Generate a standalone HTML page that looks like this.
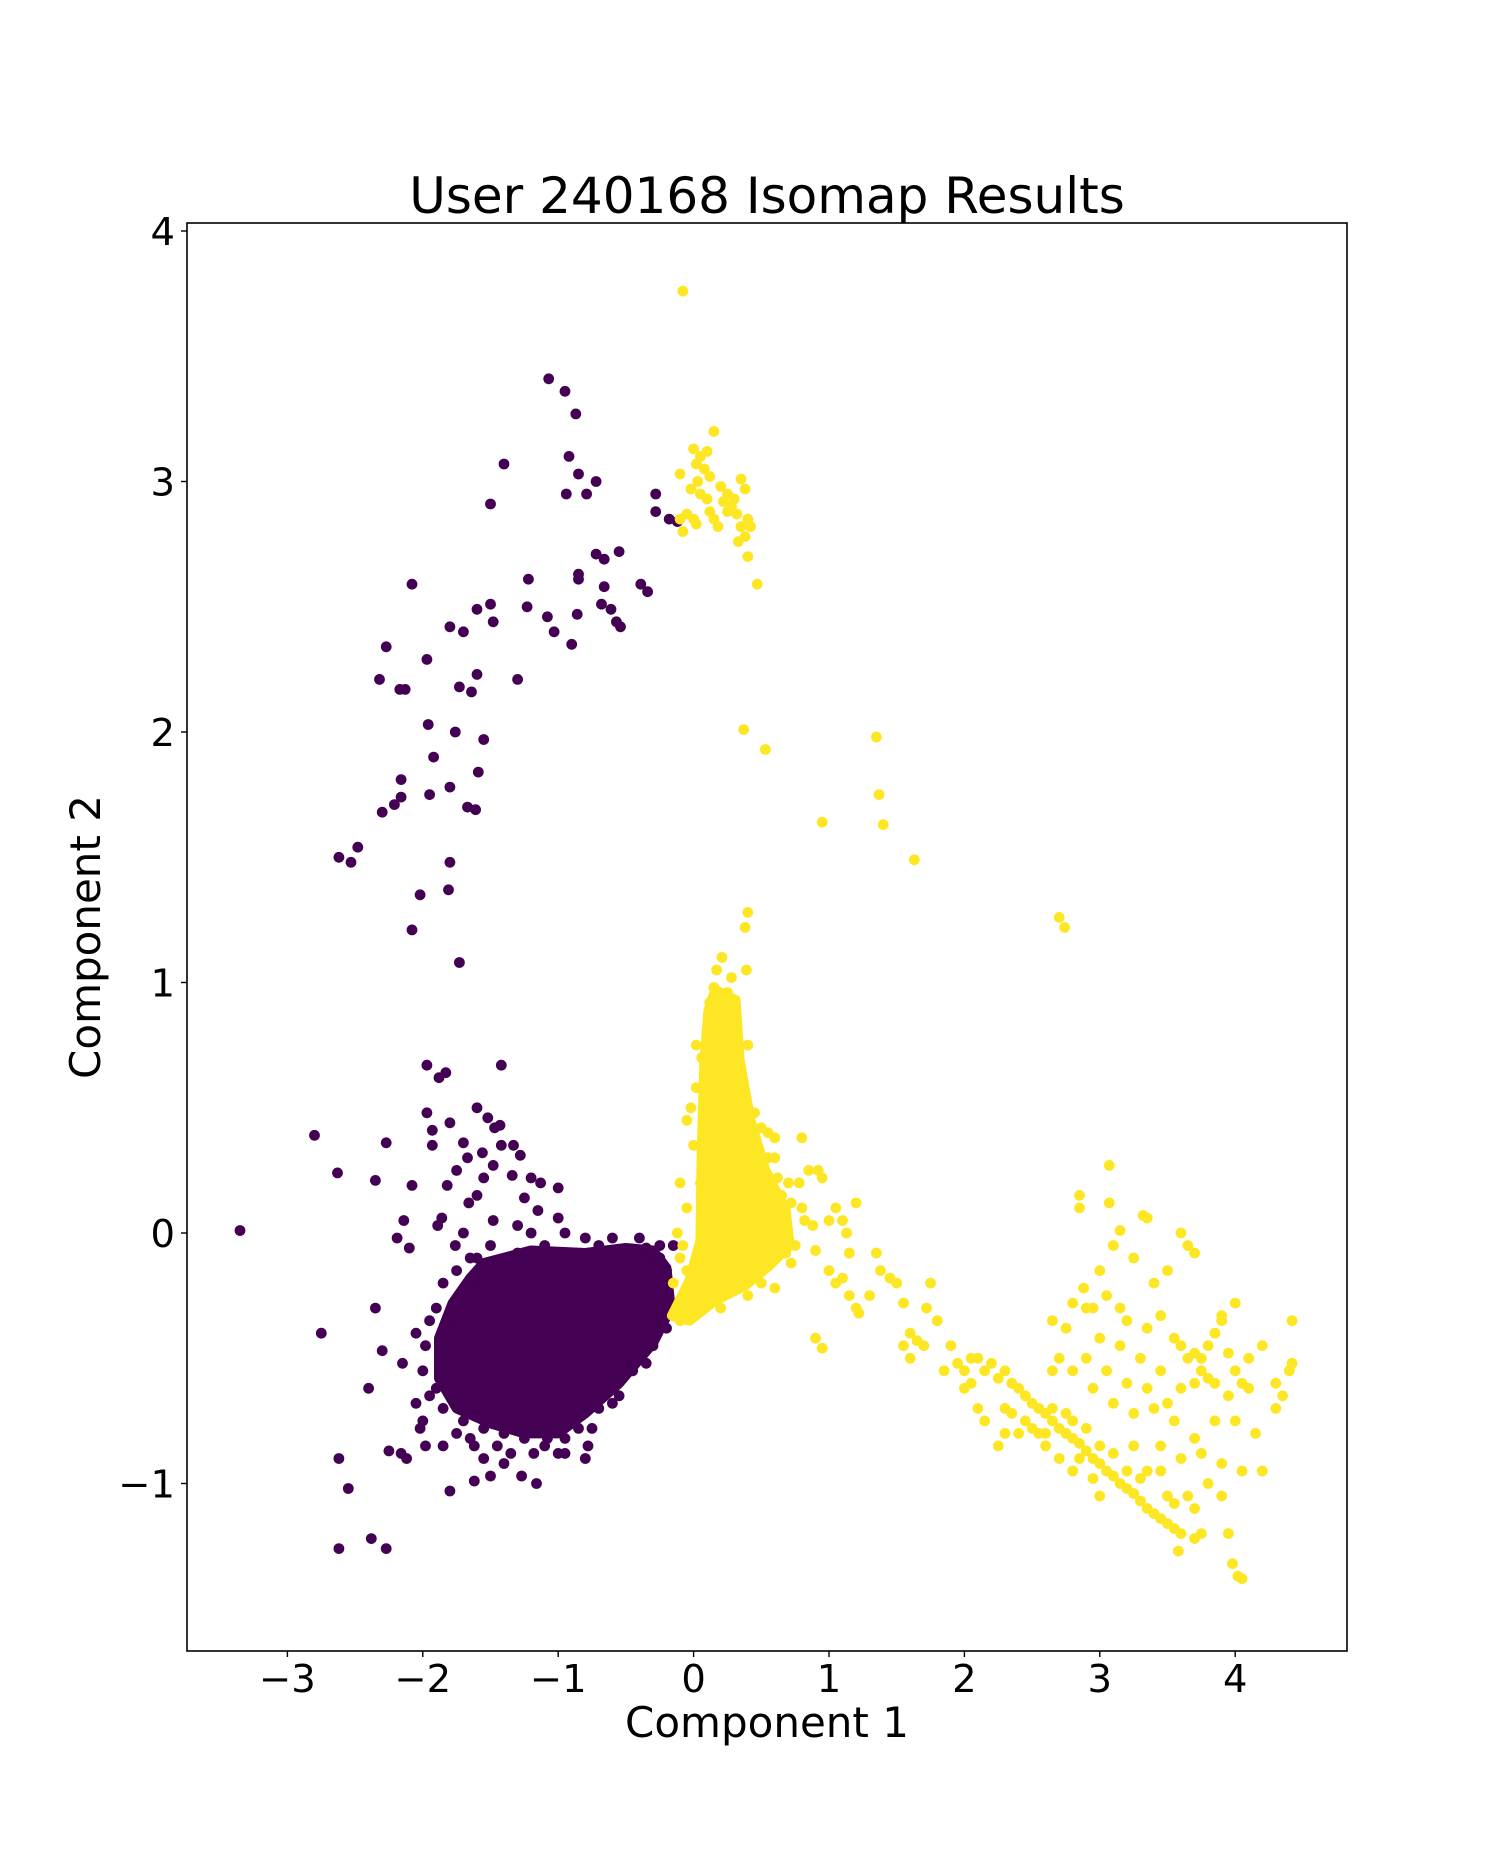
<!DOCTYPE html>
<html><head><meta charset="utf-8"><style>
html,body{margin:0;padding:0;background:#fff;}
svg{display:block;font-family:"DejaVu Sans","Liberation Sans",sans-serif;}
</style></head><body>
<svg id="chart" width="1496" height="1855" viewBox="0 0 1496 1855" xmlns="http://www.w3.org/2000/svg">
<rect x="0" y="0" width="1496" height="1855" fill="#fff"/>
<text x="767" y="213" font-size="50" text-anchor="middle">User 240168 Isomap Results</text>
<g id="marks"></g>
<rect x="187" y="223" width="1160" height="1428" fill="none" stroke="#000" stroke-width="1.6"/>
<g id="xticks"></g>
<g id="yticks"></g>
<text x="767" y="1737" font-size="42" text-anchor="middle">Component 1</text>
<text x="0" y="0" font-size="42" text-anchor="middle" transform="translate(100,937) rotate(-90)">Component 2</text>
</svg>
<script>
const xTicks=[-3,-2,-1,0,1,2,3,4];
const yTicks=[-1,0,1,2,3,4];
const purplePoints=[-1.07,3.41,-0.95,3.36,-0.87,3.27,-1.4,3.07,-0.92,3.1,-0.85,3.03,-0.72,3.0,-0.94,2.95,-0.79,2.95,-1.5,2.91,-0.28,2.95,-0.28,2.88,-0.18,2.85,-0.12,2.84,-0.72,2.71,-0.55,2.72,-0.66,2.69,-0.85,2.63,-0.85,2.61,-0.39,2.59,-0.34,2.56,-0.66,2.58,-0.68,2.51,-0.61,2.49,-0.57,2.44,-0.54,2.42,-0.86,2.47,-1.22,2.61,-1.23,2.5,-1.08,2.46,-1.03,2.4,-0.9,2.35,-2.08,2.59,-1.5,2.51,-1.6,2.49,-1.48,2.44,-1.8,2.42,-1.7,2.4,-2.27,2.34,-1.3,2.21,-2.32,2.21,-1.6,2.23,-1.97,2.29,-2.17,2.17,-2.13,2.17,-1.73,2.18,-1.64,2.16,-1.96,2.03,-1.76,2.0,-1.55,1.97,-1.92,1.9,-2.16,1.81,-1.59,1.84,-2.21,1.71,-2.16,1.74,-2.3,1.68,-1.95,1.75,-1.8,1.78,-1.67,1.7,-1.61,1.69,-2.62,1.5,-2.48,1.54,-2.53,1.48,-1.8,1.48,-1.81,1.37,-2.02,1.35,-2.08,1.21,-1.73,1.08,
-3.35,0.01,-2.8,0.39,-2.63,0.24,-2.27,0.36,-2.35,0.21,-2.08,0.19,-1.97,0.67,-1.88,0.62,-1.83,0.64,-1.42,0.67,-1.97,0.48,-1.93,0.41,-1.93,0.35,-1.8,0.44,-1.6,0.5,-1.52,0.46,-1.47,0.42,-1.43,0.43,-1.7,0.36,-1.67,0.3,-1.56,0.32,-1.55,0.22,-1.75,0.25,-1.82,0.19,-1.42,0.35,-1.33,0.35,-1.28,0.31,-1.48,0.27,-1.34,0.23,-1.2,0.22,-1.13,0.2,-1.0,0.18,-1.6,0.15,-1.66,0.12,-1.15,0.09,-1.25,0.14,-1.0,0.06,-1.3,0.03,-1.48,0.05,-2.14,0.05,-2.19,-0.02,-2.1,-0.06,-1.89,0.03,-1.86,0.06,-1.7,0.0,-1.76,-0.05,-2.75,-0.4,-2.35,-0.3,-2.3,-0.47,-2.4,-0.62,-2.15,-0.52,-2.25,-0.87,-2.62,-0.9,-2.55,-1.02,-2.38,-1.22,-2.62,-1.26,-2.27,-1.26,-2.16,-0.88,-2.12,-0.9,-1.8,-1.03,-1.62,-0.99,-1.55,-0.9,-1.27,-0.97,-1.16,-1.0,-1.5,-0.97,-1.4,-0.92,-1.62,-0.85,-1.98,-0.85,-2.02,-0.78,-1.08,-0.82,-0.95,-0.88,-0.8,-0.9,
-1.65,-0.1,-1.5,-0.05,-1.3,-0.08,-1.1,-0.05,-0.9,-0.1,-0.7,-0.05,-0.55,-0.07,-0.45,-0.08,-0.35,-0.06,-0.25,-0.1,-0.18,-0.2,-0.15,-0.3,-0.2,-0.38,-0.3,-0.45,-0.45,-0.55,-0.55,-0.65,-0.7,-0.7,-0.85,-0.78,-0.95,-0.82,-1.1,-0.85,-1.25,-0.82,-1.4,-0.8,-1.55,-0.78,-1.7,-0.75,-1.85,-0.7,-1.95,-0.65,-2.0,-0.55,-1.98,-0.45,-1.95,-0.35,-1.9,-0.3,-1.85,-0.2,-1.75,-0.15,-2.05,-0.68,-2.0,-0.75,-1.85,-0.85,-1.75,-0.8,-1.35,-0.88,-0.78,-0.85,-0.5,-0.5,-0.4,-0.48,-0.3,-0.35,-0.2,-0.15,-0.15,-0.05,-1.45,-0.15,-1.35,-0.12,-1.2,0.0,-0.95,0.0,-0.8,-0.02,
-1.72,-0.25,-1.8,-0.4,-1.85,-0.52,-1.78,-0.62,-1.62,-0.72,-1.9,-0.62,-2.05,-0.4,-1.6,-0.1,-1.05,-0.1,-0.6,-0.02,-0.4,-0.02,-0.25,-0.05,-0.22,-0.25,-0.35,-0.52,-0.6,-0.68,-0.75,-0.78,-1.18,-0.88,-1.0,-0.88,-1.45,-0.85,-1.65,-0.82];
const purpleCore=[-1.55,-0.12,-1.2,-0.07,-0.8,-0.08,-0.5,-0.06,-0.3,-0.07,-0.2,-0.14,-0.17,-0.3,-0.3,-0.44,-0.55,-0.6,-0.8,-0.72,-1.0,-0.8,-1.25,-0.8,-1.5,-0.76,-1.75,-0.7,-1.88,-0.58,-1.88,-0.42,-1.78,-0.28,-1.65,-0.18];
const yellowPoints=[-0.08,3.76,0.15,3.2,0.0,3.13,0.05,3.1,0.1,3.12,0.08,3.05,0.02,3.07,0.12,3.02,0.03,3.0,-0.1,3.03,0.2,2.98,0.25,2.95,0.3,2.93,0.35,3.01,0.38,2.97,0.28,2.9,0.32,2.87,0.4,2.85,0.35,2.82,0.12,2.88,0.15,2.85,0.05,2.95,0.22,2.92,-0.05,2.87,-0.1,2.85,-0.08,2.8,0.0,2.85,0.38,2.78,0.42,2.82,0.33,2.76,0.4,2.7,0.47,2.59,0.25,2.88,0.1,2.93,0.18,2.82,0.02,2.83,-0.02,2.97,
0.37,2.01,0.53,1.93,0.95,1.64,1.35,1.98,1.37,1.75,1.4,1.63,1.63,1.49,2.7,1.26,2.74,1.22,0.4,1.28,0.38,1.22,
0.21,1.1,0.17,1.05,0.39,1.05,0.28,1.02,0.15,0.98,0.25,0.96,0.12,0.92,0.1,0.8,0.02,0.75,0.2,0.85,0.4,0.75,0.08,0.6,0.02,0.58,-0.05,0.45,-0.02,0.5,0.0,0.35,0.45,0.48,0.5,0.42,0.55,0.4,0.6,0.38,0.6,0.3,0.55,0.3,0.62,0.22,0.7,0.2,0.8,0.38,0.65,0.15,0.78,0.2,0.85,0.25,0.92,0.25,0.95,0.22,0.72,0.12,0.68,0.08,0.8,0.1,0.82,0.05,0.88,0.03,-0.1,0.2,-0.12,0.0,-0.08,-0.05,-0.05,0.1,-0.1,-0.1,-0.15,-0.2,-0.12,-0.3,-0.1,-0.35,0.0,-0.25,0.05,-0.3,0.1,-0.2,0.3,-0.15,0.45,-0.15,0.55,-0.1,0.6,-0.05,0.68,-0.08,0.72,-0.12,0.75,-0.05,0.9,-0.07,0.6,-0.22,0.5,-0.2,0.4,-0.25,0.2,-0.3,0.9,-0.42,0.95,-0.46,1.0,0.05,1.05,0.1,1.1,0.05,1.13,0.0,1.2,0.12,1.15,-0.08,1.0,-0.15,1.05,-0.2,1.1,-0.18,1.15,-0.25,1.2,-0.3,1.22,-0.32,1.3,-0.25,1.35,-0.08,1.38,-0.15,1.45,-0.18,1.5,-0.2,1.55,-0.28,1.6,-0.4,1.55,-0.45,1.6,-0.5,1.7,-0.45,1.72,-0.3,1.8,-0.35,1.75,-0.2,1.65,-0.43,1.9,-0.45,1.95,-0.52,2.05,-0.6,2.0,-0.62,1.85,-0.55,2.1,-0.5,2.15,-0.55,2.2,-0.52,2.25,-0.58,2.3,-0.55,2.35,-0.6,2.4,-0.62,2.45,-0.65,2.5,-0.68,2.55,-0.7,2.6,-0.72,2.65,-0.75,2.7,-0.78,2.75,-0.8,2.8,-0.82,2.85,-0.84,2.9,-0.87,2.95,-0.9,3.0,-0.92,3.05,-0.95,3.1,-0.97,3.15,-1.0,3.2,-1.02,3.25,-1.04,3.3,-1.07,3.35,-1.1,3.4,-1.12,3.45,-1.14,3.5,-1.16,3.55,-1.18,3.6,-1.2,3.7,-1.22,3.58,-1.27,3.75,-1.2,2.1,-0.7,2.15,-0.75,2.3,-0.8,2.25,-0.85,2.4,-0.8,2.45,-0.75,2.6,-0.85,2.55,-0.8,2.7,-0.9,2.8,-0.95,2.85,-0.9,2.95,-0.98,3.0,-1.05,3.0,-0.85,3.1,-0.88,3.2,-0.95,3.25,-0.85,3.3,-0.98,3.35,-0.95,3.45,-0.95,3.5,-1.05,3.55,-1.08,3.65,-1.05,3.7,-1.1,3.8,-1.0,3.9,-1.05,3.95,-1.2,3.98,-1.32,4.02,-1.37,4.05,-1.38,2.0,-0.55,2.05,-0.5,2.3,-0.7,2.35,-0.72,2.5,-0.78,2.6,-0.8,2.65,-0.7,2.75,-0.72,2.8,-0.75,2.9,-0.78,
3.07,0.27,2.85,0.15,2.85,0.1,3.07,0.12,3.32,0.07,3.35,0.06,3.15,0.01,3.6,0.0,3.65,-0.05,3.7,-0.08,3.1,-0.05,3.0,-0.15,3.25,-0.1,3.4,-0.2,3.5,-0.15,2.88,-0.22,2.9,-0.3,2.8,-0.28,2.95,-0.3,3.05,-0.25,3.15,-0.3,3.2,-0.35,3.35,-0.38,3.45,-0.33,3.55,-0.42,3.6,-0.45,3.65,-0.5,3.75,-0.55,3.8,-0.45,3.85,-0.4,3.9,-0.35,3.95,-0.48,4.0,-0.55,4.05,-0.6,4.1,-0.5,4.2,-0.45,4.3,-0.6,4.35,-0.65,4.42,-0.35,4.4,-0.55,4.0,-0.28,3.9,-0.33,3.75,-0.5,3.7,-0.6,3.6,-0.62,3.45,-0.55,3.3,-0.5,3.15,-0.45,3.0,-0.42,2.75,-0.38,2.65,-0.35,2.7,-0.5,2.8,-0.55,2.95,-0.62,3.1,-0.68,3.25,-0.72,3.4,-0.7,3.55,-0.75,3.7,-0.82,3.85,-0.75,4.0,-0.75,4.15,-0.8,4.2,-0.95,4.05,-0.95,3.9,-0.92,3.75,-0.88,3.6,-0.9,3.45,-0.85,2.65,-0.55,2.9,-0.5,3.05,-0.55,3.2,-0.6,3.35,-0.62,3.5,-0.68,4.3,-0.7,4.42,-0.52,3.7,-0.48,3.85,-0.6,4.1,-0.62,3.8,-0.58,3.95,-0.65,
0.06,0.7,0.3,0.65,0.35,0.55,0.05,0.2,0.62,0.05,0.45,0.1,-0.05,-0.15,0.25,-0.22,0.35,0.3,0.5,0.15];
const yellowCore=[0.16,0.97,0.31,0.93,0.34,0.69,0.42,0.45,0.53,0.25,0.68,0.09,0.71,-0.05,0.56,-0.13,0.38,-0.21,0.16,-0.27,-0.03,-0.35,-0.16,-0.33,-0.03,-0.19,0.05,-0.03,0.06,0.33,0.08,0.69,0.11,0.89];

const NS='http://www.w3.org/2000/svg';
const X0=693.6, XU=135.4, Y4=231, YU=250.5;
function sx(v){return X0+v*XU;}
function sy(v){return Y4+(4-v)*YU;}
const PURPLE='#440154', YELLOW='#fde725';
const marks=document.getElementById('marks');

function drawCore(arr,color,name){
  const p=document.createElementNS(NS,'polygon');
  let s=[];
  for(let i=0;i<arr.length;i+=2){s.push(sx(arr[i]).toFixed(1)+','+sy(arr[i+1]).toFixed(1));}
  p.setAttribute('points',s.join(' '));
  p.setAttribute('fill',color);p.setAttribute('stroke',color);
  p.setAttribute('stroke-width','10');p.setAttribute('stroke-linejoin','round');
  
  
  marks.appendChild(p);
}
function drawPoints(arr,color,name){
  const g=document.createElementNS(NS,'g');
  
  
  for(let i=0;i<arr.length;i+=2){
    const c=document.createElementNS(NS,'circle');
    c.setAttribute('cx',sx(arr[i]).toFixed(1));
    c.setAttribute('cy',sy(arr[i+1]).toFixed(1));
    c.setAttribute('r','5.4');
    c.setAttribute('fill',color);
    
    
    g.appendChild(c);
  }
  marks.appendChild(g);
}
drawCore(purpleCore,PURPLE,'cluster-0-dense-core');
drawPoints(purplePoints,PURPLE,'cluster-0-points');
drawCore(yellowCore,YELLOW,'cluster-1-dense-core');
drawPoints(yellowPoints,YELLOW,'cluster-1-points');

const xg=document.getElementById('xticks');
xTicks.forEach(v=>{
  const l=document.createElementNS(NS,'line');
  l.setAttribute('x1',sx(v));l.setAttribute('x2',sx(v));
  l.setAttribute('y1',1651);l.setAttribute('y2',1657);
  l.setAttribute('stroke','#000');l.setAttribute('stroke-width','1.4');
  
  
  xg.appendChild(l);
  const t=document.createElementNS(NS,'text');
  t.setAttribute('x',sx(v));t.setAttribute('y',1692);
  t.setAttribute('font-size','38.5');t.setAttribute('text-anchor','middle');
  t.textContent=(v<0?'\u2212'+Math.abs(v):String(v));
  
  
  xg.appendChild(t);
});
const yg=document.getElementById('yticks');
yTicks.forEach(v=>{
  const l=document.createElementNS(NS,'line');
  l.setAttribute('x1',181);l.setAttribute('x2',187);
  l.setAttribute('y1',sy(v));l.setAttribute('y2',sy(v));
  l.setAttribute('stroke','#000');l.setAttribute('stroke-width','1.4');
  
  
  yg.appendChild(l);
  const t=document.createElementNS(NS,'text');
  t.setAttribute('x',175);t.setAttribute('y',sy(v)+14);
  t.setAttribute('font-size','38.5');t.setAttribute('text-anchor','end');
  t.textContent=(v<0?'\u2212'+Math.abs(v):String(v));
  
  
  yg.appendChild(t);
});
</script>
</body></html>
